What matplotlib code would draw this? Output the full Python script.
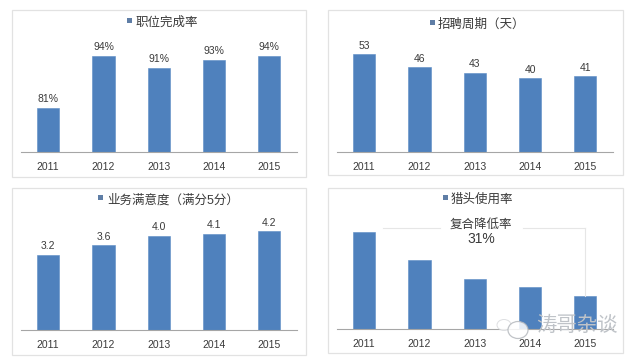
import matplotlib
matplotlib.use('Agg')
import matplotlib.pyplot as plt
from matplotlib.patches import Rectangle, Ellipse

plt.rcParams['font.family'] = ['Liberation Sans', 'Noto Sans CJK SC', 'DejaVu Sans']

W, H = 640, 358
years = ['2011', '2012', '2013', '2014', '2015']

fill_rate = [81, 94, 91, 93, 94]
fill_labels = ['81%', '94%', '91%', '93%', '94%']
cycle_days = [53, 46, 43, 40, 41]
cycle_labels = ['53', '46', '43', '40', '41']
satisfaction = [3.2, 3.6, 4.0, 4.1, 4.2]
satisfaction_labels = ['3.2', '3.6', '4.0', '4.1', '4.2']
# no numbers on this panel
headhunter_use = [97, 69, 50, 42, 33]

bar_color = '#4f81bd'
text_color = '#3a3a3a'
grey = '#e2e2e2'

fig = plt.figure(figsize=(W / 100, H / 100), dpi=100, facecolor='white')


def fx(x):
    return x / W


def fy(y):
    return 1 - y / H


def panel(box, left, base, values, labels, ylim, title, title_x, title_y, mark_x):
    # outer frame
    fig.add_artist(Rectangle((fx(box[0]), fy(box[3])), (box[2] - box[0]) / W, (box[3] - box[1]) / H,
                             transform=fig.transFigure, fill=False, ec=grey, lw=0.9))
    ax = fig.add_axes([fx(left), fy(base), 276.5 / W, 100 / H])
    ax.set_facecolor('none')
    bars = ax.bar(range(5), values, width=0.4, color=bar_color, edgecolor='#5b8cc4', linewidth=0.4)
    ax.set_xlim(-0.5, 4.5)
    ax.set_ylim(*ylim)
    ax.set_yticks([])
    ax.set_xticks(range(5))
    ax.set_xticklabels(years, fontsize=7.5, color=text_color)
    ax.tick_params(axis='x', length=0, pad=7.5)
    for s in ['top', 'left', 'right']:
        ax.spines[s].set_visible(False)
    ax.spines['bottom'].set_color('#a6a6a6')
    ax.spines['bottom'].set_linewidth(0.8)
    if labels:
        for b, lab in zip(bars, labels):
            ax.annotate(lab, (b.get_x() + b.get_width() / 2, b.get_height()), xytext=(0, 2.5),
                        textcoords='offset points', ha='center', va='bottom',
                        fontsize=7.5, color=text_color, annotation_clip=False)
    fig.text(fx(title_x), fy(title_y), title, ha='left', va='center', fontsize=9, color=text_color)
    fig.add_artist(Rectangle((fx(mark_x), fy(title_y)), 5 / W, 5 / H,
                             transform=fig.transFigure, fc='#5f7ea6', ec='none'))


panel((12, 10, 306, 177), 20.5, 151.5, fill_rate, fill_labels, (70, 95), '职位完成率', 135, 23, 127)
panel((328, 10, 623, 175), 336.5, 151.5, cycle_days, cycle_labels, (0, 54.5), '招聘周期（天）', 438, 25, 430)
panel((12, 188, 306, 355), 20.5, 330, satisfaction, satisfaction_labels, (0, 4.25), '业务满意度（满分5分）', 107, 200, 98)
panel((328, 188, 623, 353), 336.5, 329, headhunter_use, None, (0, 100), '猎头使用率', 451, 200, 443)

# compound rate note on the last panel
fig.text(fx(481), fy(225), '复合降低率', ha='center', va='center', fontsize=9, color=text_color)
fig.text(fx(481), fy(239), '31%', ha='center', va='center', fontsize=10, color=text_color)
line_c = '#e6e6e6'
for xs, ys in [((383, 440), (228, 228)), ((523, 585), (228, 228)), ((585, 585), (228, 296))]:
    fig.add_artist(plt.Line2D([fx(v) for v in xs], [fy(v) for v in ys], color=line_c, lw=0.8,
                              transform=fig.transFigure))

# watermark
fig.add_artist(Ellipse((fx(504), fy(325)), 14 / W, 11 / H, transform=fig.transFigure,
                       fc='white', ec='#d5d7da', lw=0.7, alpha=0.8, zorder=2.9))
fig.add_artist(Ellipse((fx(518), fy(330)), 20 / W, 17 / H, transform=fig.transFigure,
                       fc='white', ec='#b5b9be', lw=0.9, alpha=0.85, zorder=3))
fig.text(fx(536), fy(325), '涛哥杂谈', ha='left', va='center', fontsize=14.7, color='#bfc3c8', zorder=4)

fig.savefig('out.png', dpi=100)
